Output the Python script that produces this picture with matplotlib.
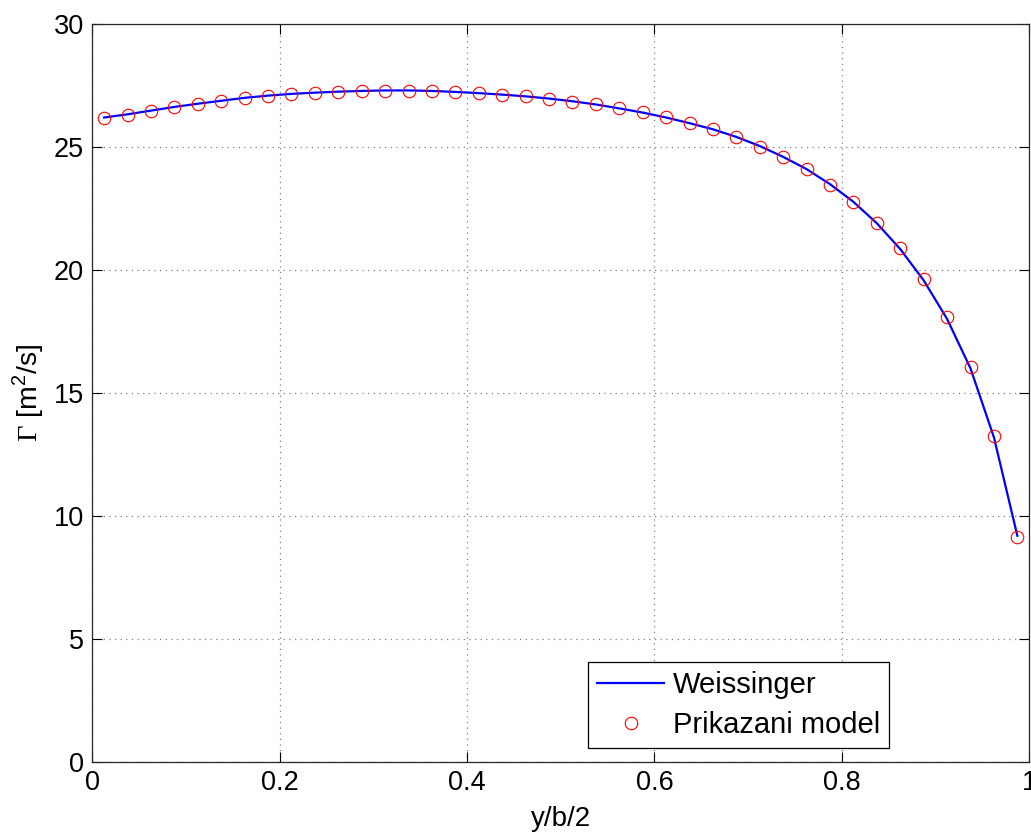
import numpy as np
import matplotlib
matplotlib.use("Agg")
import matplotlib.pyplot as plt

plt.rcParams["font.family"] = ["Liberation Sans", "DejaVu Sans"]
plt.rcParams["mathtext.fontset"] = "custom"
plt.rcParams["mathtext.rm"] = "Liberation Serif"
plt.rcParams["mathtext.sf"] = "Liberation Sans"

# raspon y/b/2 (40 panela, sredine)
span = [(i + 0.5) / 40 for i in range(40)]

# cirkulacija ocitana sa slike
gamma_prikazani = [
    26.18, 26.31, 26.47, 26.63, 26.75, 26.88, 27.00, 27.08, 27.15, 27.19,
    27.24, 27.26, 27.29, 27.29, 27.26, 27.22, 27.18, 27.13, 27.07, 26.96,
    26.84, 26.73, 26.58, 26.41, 26.22, 25.97, 25.73, 25.40, 25.02, 24.58,
    24.09, 23.47, 22.76, 21.93, 20.91, 19.63, 18.08, 16.05, 13.27, 9.13,
]
gamma_weissinger = [
    26.20, 26.33, 26.48, 26.63, 26.76, 26.88, 27.00, 27.09, 27.16, 27.21,
    27.25, 27.28, 27.30, 27.30, 27.28, 27.24, 27.19, 27.13, 27.06, 26.97,
    26.86, 26.73, 26.57, 26.40, 26.20, 25.97, 25.72, 25.41, 25.04, 24.60,
    24.10, 23.49, 22.77, 21.90, 20.85, 19.58, 18.01, 16.00, 13.20, 9.20,
]

xticks = [0, 0.2, 0.4, 0.6, 0.8, 1]
yticks = [0, 5, 10, 15, 20, 25, 30]

fig = plt.figure(figsize=(10.31, 8.34), dpi=100)
ax = fig.add_axes([0.0897, 0.0863, 0.9084, 0.8849])

ax.plot(span, gamma_weissinger, color="#0000ff", linewidth=1.6, label="Weissinger")
ax.plot(span, gamma_prikazani, linestyle="none", marker="o", markersize=9,
        markerfacecolor="none", markeredgecolor="#ff0000", markeredgewidth=0.8,
        label="Prikazani model")

ax.set_xlim(0, 1)
ax.set_ylim(0, 30)
ax.set_xticks(xticks)
ax.set_xticklabels(["0", "0.2", "0.4", "0.6", "0.8", "1"])
ax.set_yticks(yticks)
ax.tick_params(direction="in", length=7, width=0.8, labelsize=19.5,
               top=True, right=True, pad=6, colors="black")
ax.grid(True, color="#808080", linestyle=(0, (1, 3.5)), linewidth=0.9)
for s in ax.spines.values():
    s.set_linewidth(0.9)
    s.set_color("#262626")

ax.set_xlabel("y/b/2", fontsize=20, labelpad=7)
ax.set_ylabel(r"$\Gamma$ [m$^{\mathsf{2}}$/s]", fontsize=20.5, labelpad=6)

leg = ax.legend(loc="lower right", bbox_to_anchor=(0.8505, 0.0194), borderaxespad=0,
                fontsize=21, fancybox=False, framealpha=1, edgecolor="black",
                handlelength=2.3, handletextpad=0.3, labelspacing=0.42,
                borderpad=0.3, markerscale=1.0)
leg.get_frame().set_linewidth(0.9)

fig.savefig("out.png", dpi=100)
